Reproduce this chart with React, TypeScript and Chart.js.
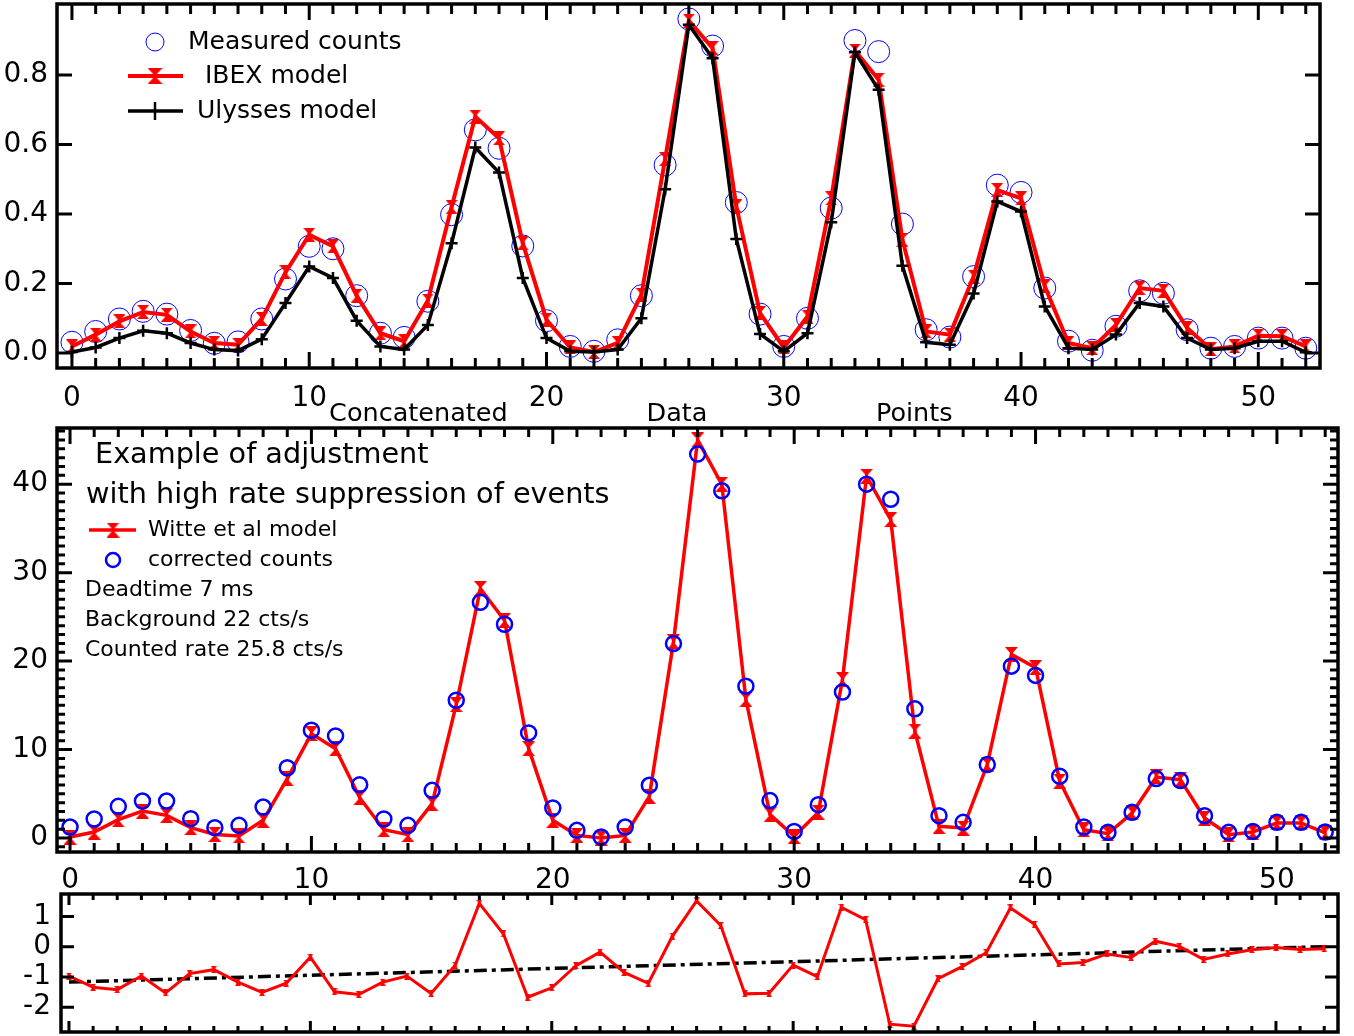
import React, { useEffect, useRef } from "react";
import { Chart, registerables } from "chart.js";

Chart.register(...registerables);

const FONT = '"DejaVu Sans", sans-serif';
const RED = "#ff0000";
const BLUE = "#0000ff";
const BLACK = "#000000";

// Concatenated data point index (categories)
const pointIndex = [...Array(53).keys()];

// Top panel
const measuredCounts = [
  0.031, 0.062, 0.098, 0.12, 0.112, 0.065, 0.028, 0.032, 0.098, 0.213,
  0.307, 0.3, 0.165, 0.057, 0.045, 0.149, 0.398, 0.642, 0.589, 0.308,
  0.093, 0.019, 0.005, 0.038, 0.165, 0.541, 0.961, 0.883, 0.433, 0.112,
  0.019, 0.1, 0.417, 0.899, 0.867, 0.371, 0.067, 0.046, 0.22, 0.483,
  0.462, 0.187, 0.034, 0.008, 0.077, 0.179, 0.172, 0.067, 0.014, 0.019,
  0.043, 0.043, 0.014,
];
const ibexModel = [
  0.019, 0.053, 0.091, 0.118, 0.11, 0.062, 0.029, 0.024, 0.098, 0.232,
  0.34, 0.307, 0.165, 0.057, 0.034, 0.151, 0.42, 0.68, 0.618, 0.316,
  0.096, 0.016, 0.003, 0.029, 0.168, 0.558, 0.956, 0.877, 0.422, 0.115,
  0.016, 0.105, 0.445, 0.87, 0.786, 0.326, 0.062, 0.053, 0.22, 0.469,
  0.445, 0.192, 0.029, 0.014, 0.081, 0.187, 0.179, 0.072, 0.011, 0.019,
  0.05, 0.048, 0.019,
];
const ulyssesModel = [
  0.003, 0.016, 0.043, 0.064, 0.057, 0.029, 0.01, 0.007, 0.04, 0.144,
  0.249, 0.216, 0.093, 0.019, 0.01, 0.081, 0.316, 0.591, 0.519, 0.216,
  0.043, 0.005, 0.003, 0.01, 0.1, 0.471, 0.944, 0.848, 0.328, 0.055,
  0.005, 0.057, 0.376, 0.865, 0.757, 0.251, 0.031, 0.024, 0.171, 0.436,
  0.407, 0.134, 0.014, 0.01, 0.053, 0.144, 0.134, 0.043, 0.01, 0.014,
  0.034, 0.034, 0.002,
];

// Middle panel
const correctedCounts = [
  1.24, 2.15, 3.58, 4.18, 4.18, 2.19, 1.17, 1.43, 3.5, 7.95,
  12.18, 11.54, 6.03, 2.15, 1.43, 5.39, 15.57, 26.65, 24.17, 11.88,
  3.39, 0.87, 0.11, 1.24, 5.96, 21.98, 43.4, 39.25, 17.17, 4.23,
  0.75, 3.77, 16.5, 40.0, 38.3, 14.6, 2.53, 1.77, 8.3, 19.43,
  18.38, 6.98, 1.25, 0.64, 2.9, 6.72, 6.49, 2.53, 0.64, 0.75,
  1.77, 1.77, 0.68,
];
const witteModel = [
  0.11, 0.68, 2.07, 3.05, 2.56, 1.17, 0.41, 0.23, 2.0, 6.71,
  11.8, 10.1, 4.56, 0.94, 0.38, 3.88, 15.08, 28.2, 24.6, 10.1,
  2.0, 0.3, 0.0, 0.3, 4.71, 22.17, 45.0, 40.0, 15.66, 2.64,
  0.19, 2.9, 17.9, 40.9, 36.0, 12.08, 1.32, 1.13, 8.3, 20.75,
  19.25, 6.42, 0.94, 0.49, 2.83, 6.9, 6.6, 2.26, 0.38, 0.68,
  1.7, 1.7, 0.57,
];

// Bottom panel
const residuals = [
  -0.97, -1.34, -1.42, -0.97, -1.53, -0.89, -0.76, -1.17, -1.51, -1.21,
  -0.35, -1.49, -1.58, -1.17, -0.97, -1.55, -0.61, 1.43, 0.42, -1.67,
  -1.36, -0.63, -0.18, -0.85, -1.21, 0.35, 1.51, 0.7, -1.56, -1.54,
  -0.61, -0.99, 1.3, 0.89, -2.56, -2.63, -1.06, -0.66, -0.2, 1.28,
  0.74, -0.57, -0.52, -0.24, -0.36, 0.18, 0.01, -0.42, -0.24, -0.1,
  -0.03, -0.09, -0.07,
];
const trendX = [0, 52];
const trendY = [-1.17, 0.0];

// Axis words under the top panel, placed at x data positions
const axisWords = ["Concatenated", "Data", "Points"];
const axisWordX = [14.6, 25.5, 35.5];

const xy = (values: number[]) => values.map((v, i) => ({ x: pointIndex[i], y: v }));

function makeHourglass(w: number, h: number, color: string) {
  const c = document.createElement("canvas");
  c.width = w;
  c.height = h;
  const g = c.getContext("2d")!;
  g.fillStyle = color;
  g.beginPath();
  g.moveTo(0, 0);
  g.lineTo(w, 0);
  g.lineTo(w / 2, h / 2);
  g.closePath();
  g.moveTo(0, h);
  g.lineTo(w, h);
  g.lineTo(w / 2, h / 2);
  g.closePath();
  g.fill();
  g.fillRect(w / 2 - 1.5, 0, 3, h);
  return c;
}

type Spec = { from: number; to: number; minor: number; major: number; minorLen: number; majorLen: number };

function frameTicks(xs: Spec, ys: Spec) {
  return {
    id: "frameTicks",
    afterDatasetsDraw(chart: any) {
      const { ctx, chartArea: a, scales } = chart;
      const sx = scales.x;
      const sy = scales.y;
      ctx.save();
      ctx.strokeStyle = BLACK;
      ctx.lineWidth = 3;
      ctx.lineCap = "butt";
      const isMajor = (v: number, m: number) => Math.abs(v / m - Math.round(v / m)) < 1e-6;
      for (let k = Math.round(xs.from / xs.minor); k <= Math.round(xs.to / xs.minor); k++) {
        const v = k * xs.minor;
        const len = isMajor(v, xs.major) ? xs.majorLen : xs.minorLen;
        const p = sx.getPixelForValue(v);
        ctx.beginPath();
        ctx.moveTo(p, a.bottom);
        ctx.lineTo(p, a.bottom - len);
        ctx.moveTo(p, a.top);
        ctx.lineTo(p, a.top + len);
        ctx.stroke();
      }
      for (let k = Math.round(ys.from / ys.minor); k <= Math.round(ys.to / ys.minor); k++) {
        const v = k * ys.minor;
        const len = isMajor(v, ys.major) ? ys.majorLen : ys.minorLen;
        const p = sy.getPixelForValue(v);
        ctx.beginPath();
        ctx.moveTo(a.left, p);
        ctx.lineTo(a.left + len, p);
        ctx.moveTo(a.right, p);
        ctx.lineTo(a.right - len, p);
        ctx.stroke();
      }
      ctx.lineWidth = 3.5;
      ctx.strokeRect(a.left, a.top, a.right - a.left, a.bottom - a.top);
      ctx.restore();
    },
  };
}

function txt(ctx: CanvasRenderingContext2D, s: string, x: number, y: number, size: number, align: CanvasTextAlign = "left") {
  ctx.font = `${size}px ${FONT}`;
  ctx.fillStyle = BLACK;
  ctx.textAlign = align;
  ctx.textBaseline = "middle";
  ctx.fillText(s, x, y);
}

function seg(ctx: CanvasRenderingContext2D, x1: number, y1: number, x2: number, y2: number) {
  ctx.beginPath();
  ctx.moveTo(x1, y1);
  ctx.lineTo(x2, y2);
  ctx.stroke();
}

const tickFont = { family: FONT, size: 28 };

function baseScales(
  xMin: number, xMax: number, yMin: number, yMax: number, yStep: number, yTop: number,
  yLabel: (v: number) => string, yWidth: number, xHeight: number, showX: boolean, xPad: number, yPad: number
) {
  return {
    x: {
      type: "linear",
      min: xMin,
      max: xMax,
      grid: { display: false, drawTicks: false },
      border: { display: false },
      ticks: {
        display: showX,
        stepSize: 10,
        includeBounds: false,
        padding: xPad,
        maxRotation: 0,
        autoSkip: false,
        font: tickFont,
        color: BLACK,
        callback: (v: any) => String(v),
      },
      afterFit: (s: any) => {
        s.height = xHeight;
        s.paddingLeft = 0;
        s.paddingRight = 0;
        s.paddingTop = 0;
        s.paddingBottom = 0;
      },
    },
    y: {
      type: "linear",
      min: yMin,
      max: yMax,
      grid: { display: false, drawTicks: false },
      border: { display: false },
      ticks: {
        stepSize: yStep,
        includeBounds: false,
        padding: yPad,
        font: tickFont,
        color: BLACK,
        callback: (v: any) => yLabel(Number(v)),
      },
      afterBuildTicks: (s: any) => {
        s.ticks = s.ticks.filter((t: any) => t.value <= yTop + 1e-9);
      },
      afterFit: (s: any) => {
        s.width = yWidth;
        s.paddingLeft = 0;
        s.paddingRight = 0;
        s.paddingTop = 0;
        s.paddingBottom = 0;
      },
    },
  };
}

export default function App() {
  const r1 = useRef<HTMLCanvasElement>(null);
  const r2 = useRef<HTMLCanvasElement>(null);
  const r3 = useRef<HTMLCanvasElement>(null);

  useEffect(() => {
    const hgTop = makeHourglass(12, 14, RED);
    const hgLegend = makeHourglass(15, 16, RED);
    const hgMid = makeHourglass(13, 15, RED);
    const hgSmall = makeHourglass(6, 7, RED);

    const common = {
      responsive: false,
      animation: false,
      events: [],
      plugins: { legend: { display: false }, tooltip: { enabled: false } },
    };

    const decor1 = {
      id: "decor1",
      afterDatasetsDraw(chart: any) {
        const { ctx, chartArea: a, scales } = chart;
        const L = a.left;
        const T = a.top;
        ctx.save();
        ctx.strokeStyle = BLUE;
        ctx.lineWidth = 1;
        ctx.beginPath();
        ctx.arc(L + 98, T + 38, 9, 0, Math.PI * 2);
        ctx.stroke();
        txt(ctx, "Measured counts", L + 131, T + 38, 25);
        ctx.strokeStyle = RED;
        ctx.lineWidth = 4;
        seg(ctx, L + 71, T + 72, L + 126, T + 72);
        ctx.drawImage(hgLegend, L + 98 - hgLegend.width / 2, T + 72 - hgLegend.height / 2);
        txt(ctx, "IBEX model", L + 148, T + 72, 25);
        ctx.strokeStyle = BLACK;
        ctx.lineWidth = 3.5;
        seg(ctx, L + 71, T + 107, L + 126, T + 107);
        ctx.lineWidth = 2.5;
        seg(ctx, L + 98, T + 98, L + 98, T + 116);
        txt(ctx, "Ulysses model", L + 140, T + 107, 25);
        axisWords.forEach((w, i) => {
          txt(ctx, w, scales.x.getPixelForValue(axisWordX[i]), a.bottom + 46, 25.5, "center");
        });
        ctx.restore();
      },
    };

    const decor2 = {
      id: "decor2",
      afterDatasetsDraw(chart: any) {
        const { ctx, chartArea: a } = chart;
        const L = a.left;
        const T = a.top;
        ctx.save();
        txt(ctx, "Example of adjustment", L + 38, T + 28, 28.7);
        txt(ctx, "with high rate suppression of events", L + 29, T + 68, 28.7);
        ctx.strokeStyle = RED;
        ctx.lineWidth = 3.5;
        seg(ctx, L + 32, T + 102, L + 79, T + 102);
        ctx.drawImage(hgMid, L + 56 - hgMid.width / 2, T + 102 - hgMid.height / 2);
        txt(ctx, "Witte et al model", L + 91, T + 102, 22);
        ctx.strokeStyle = BLUE;
        ctx.lineWidth = 2.5;
        ctx.beginPath();
        ctx.arc(L + 56, T + 132, 7, 0, Math.PI * 2);
        ctx.stroke();
        txt(ctx, "corrected counts", L + 91, T + 132, 22);
        txt(ctx, "Deadtime 7 ms", L + 28, T + 162, 22);
        txt(ctx, "Background 22 cts/s", L + 28, T + 192, 22);
        txt(ctx, "Counted rate 25.8 cts/s", L + 28, T + 222, 22);
        ctx.restore();
      },
    };

    const c1 = new Chart(r1.current!, {
      type: "line",
      data: {
        datasets: [
          {
            label: "Ulysses model",
            data: xy(ulyssesModel),
            borderColor: BLACK,
            borderWidth: 3.5,
            tension: 0,
            pointStyle: "cross",
            pointRadius: 6,
            pointBorderWidth: 2.5,
            pointBorderColor: BLACK,
            order: 0,
          },
          {
            label: "IBEX model",
            data: xy(ibexModel),
            borderColor: RED,
            borderWidth: 4,
            tension: 0,
            pointStyle: hgTop,
            pointRadius: 6,
            order: 1,
          },
          {
            label: "Measured counts",
            data: xy(measuredCounts),
            showLine: false,
            pointStyle: "circle",
            pointRadius: 11,
            pointBorderWidth: 1,
            pointBorderColor: BLUE,
            pointBackgroundColor: "rgba(0,0,0,0)",
            order: 2,
          },
        ],
      },
      options: {
        ...common,
        layout: { autoPadding: false, padding: { left: 0, top: 4, right: 34, bottom: 608 } },
        scales: baseScales(-0.63, 52.6, -0.043, 1.004, 0.2, 0.8, (v) => v.toFixed(1), 57, 60, true, 14, 9),
      } as any,
      plugins: [
        frameTicks(
          { from: 0, to: 52, minor: 1, major: 10, minorLen: 10, majorLen: 16 },
          { from: 0, to: 0.8, minor: 0.2, major: 0.2, minorLen: 15, majorLen: 15 }
        ),
        decor1,
      ],
    } as any);

    const c2 = new Chart(r2.current!, {
      type: "line",
      data: {
        datasets: [
          {
            label: "corrected counts",
            data: xy(correctedCounts),
            showLine: false,
            pointStyle: "circle",
            pointRadius: 7.5,
            pointBorderWidth: 2.5,
            pointBorderColor: BLUE,
            pointBackgroundColor: "rgba(0,0,0,0)",
            order: 0,
          },
          {
            label: "Witte et al model",
            data: xy(witteModel),
            borderColor: RED,
            borderWidth: 3.5,
            tension: 0,
            pointStyle: hgMid,
            pointRadius: 6,
            order: 1,
          },
        ],
      },
      options: {
        ...common,
        layout: { autoPadding: false, padding: { left: 0, top: 428, right: 16, bottom: 144 } },
        scales: baseScales(-0.54, 52.53, -1.58, 46.35, 10, 40, (v) => String(v), 57, 40, true, 12, 9),
      } as any,
      plugins: [
        frameTicks(
          { from: 0, to: 52, minor: 1, major: 10, minorLen: 9, majorLen: 16 },
          { from: -1, to: 46, minor: 1, major: 10, minorLen: 8, majorLen: 15 }
        ),
        decor2,
      ],
    } as any);

    const c3 = new Chart(r3.current!, {
      type: "line",
      data: {
        datasets: [
          {
            label: "residual",
            data: xy(residuals),
            borderColor: RED,
            borderWidth: 3,
            tension: 0,
            pointStyle: hgSmall,
            pointRadius: 3,
            order: 0,
          },
          {
            label: "trend",
            data: trendX.map((x, i) => ({ x, y: trendY[i] })),
            borderColor: BLACK,
            borderWidth: 3.5,
            borderDash: [13, 5, 4, 5],
            pointRadius: 0,
            order: 1,
          },
        ],
      },
      options: {
        ...common,
        layout: { autoPadding: false, padding: { left: 0, top: 894, right: 16, bottom: 2 } },
        scales: baseScales(-0.33, 52.57, -2.82, 1.74, 1, 1, (v) => String(v), 61, 2, false, 0, 10),
      } as any,
      plugins: [
        frameTicks(
          { from: 0, to: 52, minor: 1, major: 10, minorLen: 6, majorLen: 11 },
          { from: -2, to: 1, minor: 1, major: 1, minorLen: 13, majorLen: 13 }
        ),
      ],
    } as any);

    return () => {
      c1.destroy();
      c2.destroy();
      c3.destroy();
    };
  }, []);

  const cs: React.CSSProperties = { position: "absolute", left: 0, top: 0 };
  return (
    <div style={{ position: "absolute", left: 0, top: 0, width: 1354, height: 1036, background: "#ffffff" }}>
      <canvas ref={r1} width={1354} height={1036} style={cs} />
      <canvas ref={r2} width={1354} height={1036} style={cs} />
      <canvas ref={r3} width={1354} height={1036} style={cs} />
    </div>
  );
}
